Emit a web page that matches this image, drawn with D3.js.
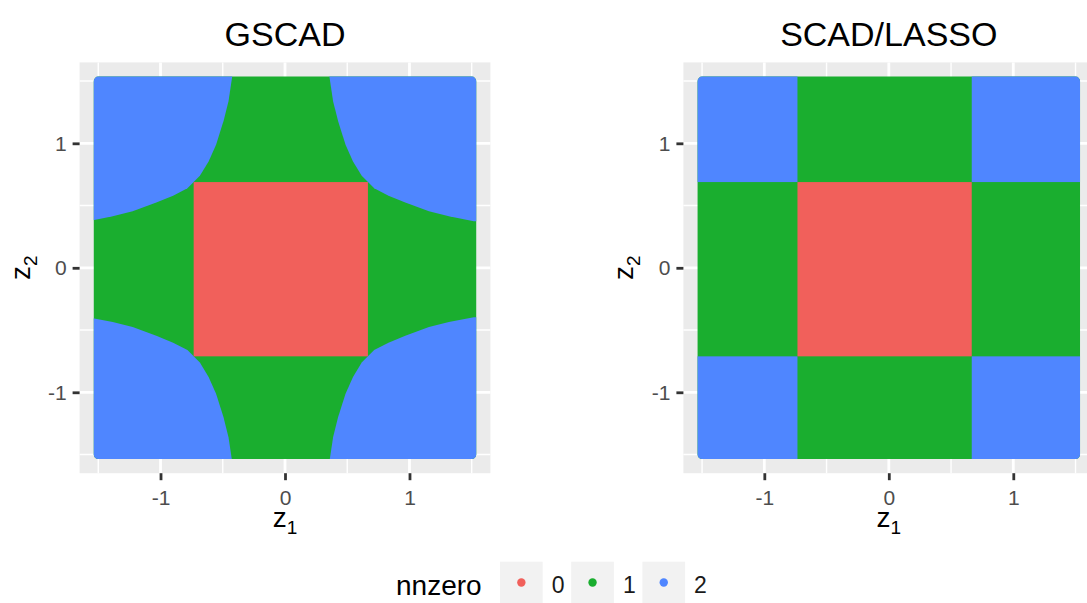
<!DOCTYPE html>
<html>
<head>
<meta charset="utf-8">
<script src="https://cdn.jsdelivr.net/npm/d3@7"></script>
<style>
  body { margin: 0; background: #ffffff; }
  svg { display: block; }
</style>
</head>
<body>
<div id="chart"></div>
<script>
// ---- data -------------------------------------------------------------
const panelTitles = ["GSCAD", "SCAD/LASSO"];
const nnzeroLevels = ["0", "1", "2"];
// range of the (z1, z2) evaluation grid
const zRange = [-1.5, 1.5];
// thresholding level: inside |z| < lambda nothing survives
const lambda = 0.7;
// GSCAD: boundary (|z1|, |z2|) between one and two non-zero estimates, one quadrant
const gscadEdge = [
  [0.39, 1.55], [0.42, 1.35], [0.46, 1.19], [0.52, 1.00], [0.58, 0.865],
  [0.65, 0.75], [0.70, 0.70], [0.75, 0.65], [0.865, 0.59], [1.00, 0.535],
  [1.19, 0.465], [1.35, 0.425], [1.55, 0.385]
];
const majorTicks = [-1, 0, 1];
const minorTicks = [-1.5, -0.5, 0.5, 1.5];

// ---- styles -----------------------------------------------------------
const levelColors = ["#F1605B", "#1AAE2F", "#4F86FF"];
const font = "'Liberation Sans', Arial, Helvetica, sans-serif";
const width = 1087, height = 603;
const panelLefts = [79.6, 683.4];
const panelSize = 410.8;
const panelTop = 62.4;
const pointR = 4.5;           // radius of the plotted points
const overlap = [-4.2, 1.4];  // later-drawn points cover earlier ones by about one radius

const color = d3.scaleOrdinal().domain(nnzeroLevels).range(levelColors);

const svg = d3.select("#chart").append("svg")
  .attr("width", width).attr("height", height)
  .style("font-family", font);
svg.append("rect").attr("width", width).attr("height", height).attr("fill", "#ffffff");
const defs = svg.append("defs");

const y = d3.scaleLinear().domain([-1.65, 1.65]).range([panelTop + panelSize, panelTop]);
const E = 1.75; // beyond the plotted extent, clipped away

function quadrants(fn) {
  [[1, 1], [-1, 1], [-1, -1], [1, -1]].forEach(([sx, sy]) => fn(sx, sy));
}

panelTitles.forEach((title, i) => {
  const x = d3.scaleLinear().domain([-1.65, 1.65]).range([panelLefts[i], panelLefts[i] + panelSize]);
  const g = svg.append("g");
  const cx = (x.range()[0] + x.range()[1]) / 2;
  const cy = (y.range()[0] + y.range()[1]) / 2;

  // panel background and grid
  g.append("rect")
    .attr("x", x.range()[0]).attr("y", panelTop)
    .attr("width", panelSize).attr("height", panelSize)
    .attr("fill", "#EBEBEB");
  const grid = g.append("g").attr("stroke", "#ffffff").attr("fill", "none");
  minorTicks.forEach(t => {
    grid.append("line").attr("x1", x(t)).attr("x2", x(t)).attr("y1", panelTop).attr("y2", panelTop + panelSize).attr("stroke-width", 1.4);
    grid.append("line").attr("y1", y(t)).attr("y2", y(t)).attr("x1", x.range()[0]).attr("x2", x.range()[1]).attr("stroke-width", 1.4);
  });
  majorTicks.forEach(t => {
    grid.append("line").attr("x1", x(t)).attr("x2", x(t)).attr("y1", panelTop).attr("y2", panelTop + panelSize).attr("stroke-width", 2.8);
    grid.append("line").attr("y1", y(t)).attr("y2", y(t)).attr("x1", x.range()[0]).attr("x2", x.range()[1]).attr("stroke-width", 2.8);
  });

  // footprint of the dense point grid
  const clipId = "pts-clip-" + i;
  defs.append("clipPath").attr("id", clipId).append("rect")
    .attr("x", x(zRange[0]) - pointR).attr("y", y(zRange[1]) - pointR)
    .attr("width", x(zRange[1]) - x(zRange[0]) + 2 * pointR)
    .attr("height", y(zRange[0]) - y(zRange[1]) + 2 * pointR)
    .attr("rx", pointR).attr("ry", pointR);

  const pts = g.append("g").attr("clip-path", `url(#${clipId})`);
  // one non-zero everywhere by default
  pts.append("rect")
    .attr("x", x(-E)).attr("y", y(E))
    .attr("width", x(E) - x(-E)).attr("height", y(-E) - y(E))
    .attr("fill", color("1"));

  const inner = pts.append("g").attr("transform", `translate(${overlap[0]},${overlap[1]})`);
  const line = d3.line().x(d => x(d[0])).y(d => y(d[1]));

  if (i === 0) {
    // GSCAD: curved regions with two non-zeros
    quadrants((sx, sy) => {
      const pts2 = [[gscadEdge[0][0], E]]
        .concat(gscadEdge)
        .concat([[E, gscadEdge[gscadEdge.length - 1][1]], [E, E]])
        .map(([a, b]) => [sx * a, sy * b]);
      inner.append("path").attr("d", line(pts2) + "Z").attr("fill", color("2"));
    });
  } else {
    // SCAD/LASSO: separable thresholding, square corners
    quadrants((sx, sy) => {
      const a = [sx * lambda, sx * E].sort(d3.ascending);
      const b = [sy * lambda, sy * E].sort(d3.ascending);
      inner.append("rect")
        .attr("x", x(a[0])).attr("y", y(b[1]))
        .attr("width", x(a[1]) - x(a[0])).attr("height", y(b[0]) - y(b[1]))
        .attr("fill", color("2"));
    });
  }
  // zero non-zeros in the central square
  inner.append("rect")
    .attr("x", x(-lambda)).attr("y", y(lambda))
    .attr("width", x(lambda) - x(-lambda)).attr("height", y(-lambda) - y(lambda))
    .attr("fill", color("0"));

  // axes
  const fmt = d => String(d);
  const xAxis = g.append("g")
    .attr("transform", `translate(0,${panelTop + panelSize})`)
    .call(d3.axisBottom(x).tickValues(majorTicks).tickSize(7).tickPadding(10).tickFormat(fmt));
  const yAxis = g.append("g")
    .attr("transform", `translate(${x.range()[0]},0)`)
    .call(d3.axisLeft(y).tickValues(majorTicks).tickSize(7).tickPadding(6).tickFormat(fmt));
  [xAxis, yAxis].forEach(ax => {
    ax.select(".domain").remove();
    ax.selectAll(".tick line").attr("stroke", "#333333").attr("stroke-width", 2.8);
    ax.selectAll(".tick text")
      .attr("fill", "#4D4D4D").style("font-size", "21px").style("font-family", font);
  });

  // title
  g.append("text")
    .attr("x", cx).attr("y", 46)
    .attr("text-anchor", "middle")
    .style("font-size", "34px").attr("fill", "#000000")
    .text(title);

  // axis titles z1 / z2
  const xt = g.append("text")
    .attr("x", cx).attr("y", 527)
    .attr("text-anchor", "middle")
    .style("font-size", "28px").attr("fill", "#000000");
  xt.append("tspan").text("z");
  xt.append("tspan").attr("dy", 7).style("font-size", "19px").text("1");

  const yt = g.append("text")
    .attr("transform", `translate(${x.range()[0] - 50},${cy}) rotate(-90)`)
    .attr("text-anchor", "middle")
    .style("font-size", "28px").attr("fill", "#000000");
  yt.append("tspan").text("z");
  yt.append("tspan").attr("dy", 7).style("font-size", "19px").text("2");
});

// legend
const legend = svg.append("g");
legend.append("text")
  .attr("x", 396).attr("y", 595)
  .style("font-size", "28px").attr("fill", "#000000")
  .text("nnzero");
const keyX = d3.scalePoint().domain(nnzeroLevels).range([500, 642.4]);
const keySize = 42.7;
nnzeroLevels.forEach(lv => {
  const k = legend.append("g").attr("transform", `translate(${keyX(lv)},561.7)`);
  k.append("rect").attr("width", keySize).attr("height", keySize).attr("fill", "#F2F2F2");
  k.append("circle").attr("cx", keySize / 2).attr("cy", keySize / 2 - 0.5).attr("r", 4.2).attr("fill", color(lv));
  k.append("text")
    .attr("x", keySize + 9).attr("y", 31.5)
    .style("font-size", "23px").attr("fill", "#1A1A1A")
    .text(lv);
});
</script>
</body>
</html>
